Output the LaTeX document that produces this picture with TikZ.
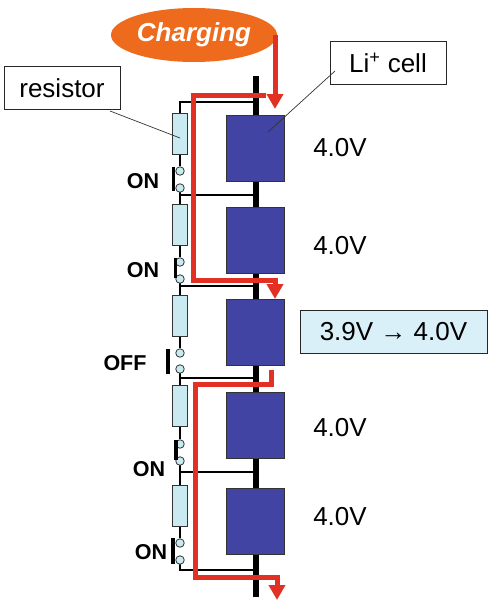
\documentclass[tikz,border=0pt]{standalone}
\usepackage{fontspec}
\setmainfont{Liberation Sans}
\usepackage{tikz}
\usetikzlibrary{arrows.meta,positioning,shapes.geometric,calc,backgrounds}
\definecolor{cellblue}{RGB}{65,68,163}
\definecolor{resblue}{RGB}{200,234,240}
\definecolor{boxblue}{RGB}{218,240,248}
\definecolor{arrred}{RGB}{226,48,36}
\definecolor{charge}{RGB}{238,106,28}
\tikzset{
  cell/.style={draw=black!80,fill=cellblue,line width=0.9pt,minimum width=58pt,minimum height=66pt,inner sep=0pt},
  res/.style={draw=black!80,fill=resblue,line width=0.9pt,minimum width=15pt,minimum height=41pt,inner sep=0pt},
  contact/.style={circle,draw=black!80,fill=resblue,line width=0.8pt,minimum size=8.5pt,inner sep=0pt},
  callout/.style={draw=black!85,fill=white,line width=0.9pt,minimum height=43pt,inner sep=0pt,font=\fontsize{26}{28}\selectfont},
  volt/.style={font=\fontsize{26}{28}\selectfont},
  state/.style={font=\fontsize{21.5}{23}\selectfont\bfseries},
  bus/.style={line width=5.5pt},
  wire/.style={line width=2.6pt},
  lever/.style={line width=3.2pt},
  leader/.style={line width=0.7pt,draw=black!80},
  redline/.style={draw=arrred,line width=5pt,line join=miter},
  flow/.style={redline,-{Triangle[length=15pt,width=16pt]}}
}
\begin{document}
\begin{tikzpicture}[x=1pt,y=-1pt]
\useasboundingbox (0,0) rectangle (492,600);
\coordinate (bustop) at (256,76);
\coordinate (busend) at (256,597);
\draw[bus] (bustop) -- (busend);
% tap points
\coordinate (t0) at (180,102); \coordinate (t1) at (180,195); \coordinate (t2) at (180,286);
\coordinate (t3) at (180,378); \coordinate (t4) at (180,472); \coordinate (t5) at (180,570);
\foreach \n in {0,...,5} {\draw[wire] (t\n) -- (bustop |- t\n);}
% string of resistors and switches
\foreach \n/\ya/\yb/\yc in {1/133.5/171/188,2/224.5/262/279,3/315.5/353/369,4/406/444/461,5/505.5/543/560} {
  \node[res] (r\n) at (180,\ya) {};
  \node[contact] (a\n) at (180,\yb) {};
  \node[contact] (b\n) at (180,\yc) {};
}
\begin{scope}[on background layer]
\draw[wire,line cap=rect] (t0) -- (r1) (t1) -- (r2) (t2) -- (r3) (t3) -- (r4) (t4) -- (r5);
\draw[wire] (r1) -- (a1) (r2) -- (a2) (r3) -- (a3) (r4) -- (a4) (r5) -- (a5);
\draw[wire,line cap=rect] (b1) -- (t1) (b2) -- (t2) (b3) -- (t3) (b4) -- (t4) (b5) -- (t5);
\end{scope}
\draw[lever] (173.5,167) -- (173.5,191);
\draw[lever] (175.5,258) -- (175.5,278);
\draw[lever] (168,349) -- (168,374);
\draw[lever] (176,440) -- (176,460);
\draw[lever] (173,538) -- (173,564);
\node[state] (on1) at (143,181) {ON};
\node[state] (on2) at (143,270) {ON};
\node[state] (off) at (125,363) {OFF};
\node[state] (on3) at (149,469) {ON};
\node[state] (on4) at (151,552) {ON};
% cells
\node[cell] (c1) at (255,148) {};
\node[cell] (c2) at (255,240) {};
\node[cell] (c3) at (255,332) {};
\node[cell] (c4) at (255,425) {};
\node[cell] (c5) at (255,521) {};
\node[volt] (v1) at (340,148) {4.0V};
\node[volt] (v2) at (340,246) {4.0V};
\node[callout,fill=boxblue,minimum width=187pt] (v3) at (393.5,331.5) {3.9V → 4.0V};
\node[volt] (v4) at (340,428) {4.0V};
\node[volt] (v5) at (340,517) {4.0V};
% labels
\node[callout,minimum width=116pt] (lres) at (62,88) {resistor};
\node[callout,minimum width=116pt] (lli) at (388,62.5) {Li\textsuperscript{+} cell};
\coordinate (lresfoot) at (110,111);
\coordinate (rtip) at (180,138);
\coordinate (llifoot) at (335,71);
\coordinate (ctip) at (268,132);
\draw[leader] (lresfoot) -- (rtip);
\draw[leader] (llifoot) -- (ctip);
% charging paths
\node[ellipse,fill=charge,minimum width=166pt,minimum height=54pt,inner sep=0pt,text=white,font=\fontsize{26}{28}\selectfont\bfseries\itshape] (chg) at (194,35) {Charging};
\coordinate (chgtip) at (275,109);
\draw[flow] (chg.east -| chgtip) -- (chgtip);
\draw[flow] (266,95) -- (193,95) -- (193,280) -- (275,280) -- (275,299);
\draw[redline] (271,370) -- (271,384) -- (195,384) -- (195,577) -- (277,577);
\draw[flow] (277,574.5) -- (277,600);
\end{tikzpicture}
\end{document}
